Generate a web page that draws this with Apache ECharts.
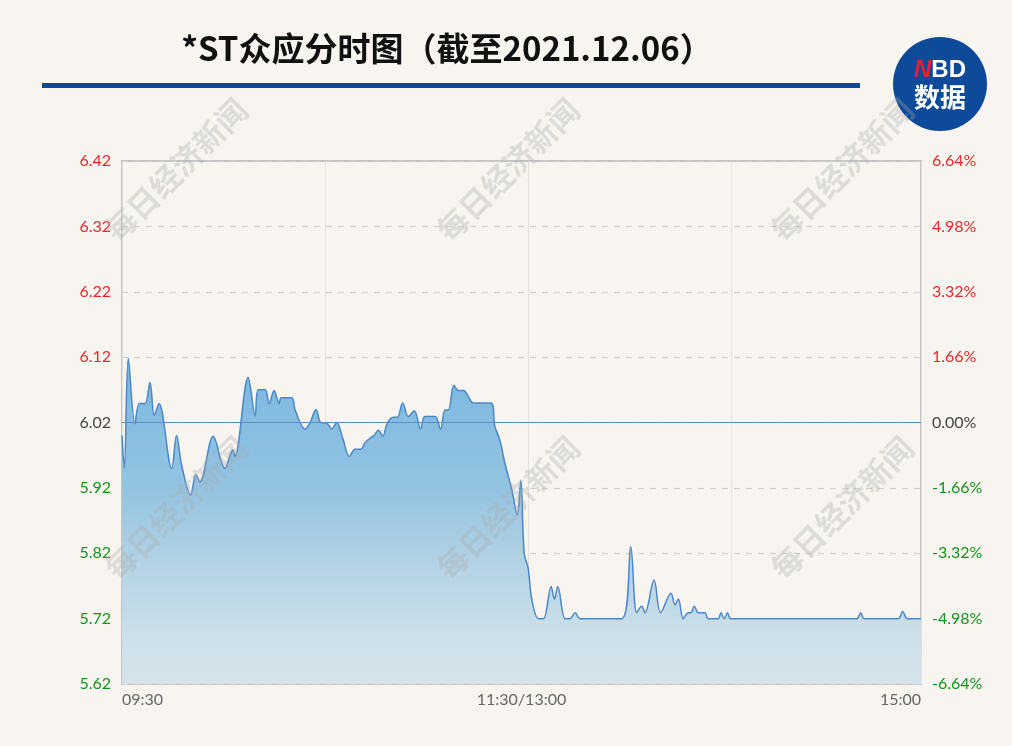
<!DOCTYPE html>
<html>
<head>
<meta charset="utf-8">
<script src="https://cdn.jsdelivr.net/npm/echarts@6/dist/echarts.min.js"></script>
<style>
html,body{margin:0;padding:0;background:#f8f5f0;}
#c{width:1012px;height:746px;}
</style>
</head>
<body>
<div id="c"></div>
<script>
// ---- data ----
const titleText = '*ST众应分时图（截至2021.12.06）';
const prevClose = 6.02;
const priceTicks = [5.62, 5.72, 5.82, 5.92, 6.02, 6.12, 6.22, 6.32, 6.42];
const pctTicks = [-6.64, -4.98, -3.32, -1.66, 0, 1.66, 3.32, 4.98, 6.64];
const timeLabels = { 0: '09:30', 120: '11:30/13:00', 240: '15:00' };
// minutes since 09:30 (trading time) and price
const minutes = [0,0.7,1.9,3.9,5.2,6.9,8.4,9.7,11.1,14.9,16.4,17.9,20.6,22.2,23.4,27.4,30.9,33.3,33.9,37.9,
  40.0,40.9,43.0,44.2,45.7,47.2,47.8,51.0,52.0,55.0,56.5,58.3,59.7,61.5,63.0,64.5,66.3,68.3,70.0,71.7,
  73.0,74.5,75.7,77.0,78.3,79.7,81.5,82.7,84.3,86.0,87.8,89.7,91.0,94.0,95.7,97.0,98.0,99.7,101.0,102.7,
  104.0,105.5,110.8,112.0,113.5,115.0,117.1,118.7,119.8,120.8,122.0,123.1,125.1,126.6,128.9,129.9,130.9,133.1,134.6,136.1,
  137.6,150.1,152.8,154.6,156.1,157.1,159.8,161.8,164.9,166.1,167.1,168.6,170.1,170.9,171.9,173.1,175.1,176.1,179.1,179.9,
  180.9,181.9,182.8,220.7,221.9,222.9,233.2,234.5,235.9,240];
const prices = [6.00,5.95,6.118,6.018,6.049,6.049,6.081,6.031,6.049,5.950,6.000,5.955,5.909,5.940,5.929,5.999,5.950,5.978,5.968,6.089,
  6.030,6.070,6.070,6.049,6.069,6.049,6.058,6.058,6.039,6.010,6.020,6.040,6.020,6.019,6.010,6.020,5.996,5.968,5.979,5.979,
  5.989,5.996,6.000,6.008,5.999,6.019,6.028,6.028,6.050,6.029,6.038,6.010,6.029,6.029,6.010,6.039,6.039,6.077,6.069,6.069,
  6.060,6.050,6.050,6.014,5.993,5.958,5.917,5.879,5.931,5.820,5.797,5.749,5.720,5.720,5.769,5.750,5.769,5.720,5.720,5.729,
  5.720,5.720,5.830,5.729,5.739,5.729,5.779,5.729,5.759,5.741,5.750,5.720,5.729,5.729,5.739,5.729,5.729,5.720,5.720,5.729,
  5.720,5.729,5.720,5.720,5.729,5.720,5.720,5.731,5.720,5.720];
const watermarkText = '每日经济新闻';

// ---- chart ----
const chart = echarts.init(document.getElementById('c'), null, { renderer: 'canvas' });
const seriesData = minutes.map((m, i) => [m, prices[i]]);
const labelFont = 'Lato, "Noto Sans", sans-serif';

function priceColor(v) {
  if (Math.abs(v - prevClose) < 1e-6) return '#444444';
  return v > prevClose ? '#f2262a' : '#13951b';
}
function pctColor(v) {
  if (Math.abs(v) < 1e-6) return '#444444';
  return v > 0 ? '#f2262a' : '#13951b';
}

const wm = [];
[176, 508, 842].forEach(x => {
  [170, 508].forEach(y => {
    wm.push({
      type: 'text', x: x, y: y, rotation: Math.PI / 4, z: 100, silent: true,
      style: {
        text: watermarkText, fill: 'rgba(170,170,170,0.33)',
        font: 'bold 31px "Noto Sans CJK SC", sans-serif',
        textAlign: 'center', textVerticalAlign: 'middle', align: 'center', verticalAlign: 'middle'
      }
    });
  });
});

const option = {
  backgroundColor: '#f8f5f0',
  animation: false,
  grid: { left: 122, right: 91, top: 161, bottom: 62, show: true, borderColor: '#c4c4c4', borderWidth: 2, backgroundColor: 'transparent' },
  xAxis: [
    {
      type: 'value', min: 0, max: 240, interval: 120,
      axisLine: { show: false }, axisTick: { show: false }, splitLine: { show: false },
      axisLabel: {
        fontFamily: labelFont, fontSize: 16, color: '#666666', margin: 8,
        alignMinLabel: 'left', alignMaxLabel: 'right',
        showMinLabel: true, showMaxLabel: true,
        formatter: v => timeLabels[Math.round(v)] || ''
      }
    },
    {
      type: 'value', min: 0, max: 240, interval: 61, position: 'bottom',
      axisLine: { show: false }, axisTick: { show: false }, axisLabel: { show: false },
      splitLine: { show: true, lineStyle: { color: '#e3e1de', width: 1, type: 'solid' } }
    }
  ],
  yAxis: [
    {
      type: 'value', min: priceTicks[0], max: priceTicks[priceTicks.length - 1], interval: 0.1,
      axisLine: { show: false }, axisTick: { show: false },
      splitLine: { show: true, lineStyle: { color: '#d2d0cd', type: [6, 6], width: 1.2 } },
      axisLabel: {
        fontFamily: labelFont, fontSize: 16, margin: 11,
        formatter: v => v.toFixed(2),
        color: v => priceColor(v)
      }
    },
    {
      type: 'value', min: pctTicks[0], max: pctTicks[pctTicks.length - 1], interval: 1.66,
      position: 'right',
      axisLine: { show: false }, axisTick: { show: false }, splitLine: { show: false },
      axisLabel: {
        fontFamily: labelFont, fontSize: 16, margin: 11,
        formatter: v => (Math.abs(v) < 1e-6 ? '0.00' : v.toFixed(2)) + '%',
        color: v => pctColor(v)
      }
    }
  ],
  graphic: [
    { type: 'text', x: 447, y: 48, z: 10, style: { text: titleText, fill: '#111111',
      font: 'bold 33px "Noto Sans CJK SC", sans-serif', textAlign: 'center', textVerticalAlign: 'middle', align: 'center', verticalAlign: 'middle' } },
    { type: 'rect', shape: { x: 42, y: 83, width: 818, height: 5 }, style: { fill: '#0a4a9b' }, z: 10 },
    { type: 'circle', shape: { cx: 940, cy: 84, r: 47 }, style: { fill: '#0d4a9a' }, z: 10 },
    { type: 'text', x: 940, y: 70, z: 11, style: {
      text: '{n|N}{b|BD}', textAlign: 'center', textVerticalAlign: 'middle', align: 'center', verticalAlign: 'middle',
      rich: {
        n: { fill: '#e8212e', font: 'italic bold 24px "Liberation Sans", Arial, sans-serif' },
        b: { fill: '#ffffff', font: 'bold 24px "Liberation Sans", Arial, sans-serif' }
      } } },
    { type: 'text', x: 940, y: 97, z: 11, style: { text: '数据', fill: '#ffffff',
      font: 'bold 26px "Noto Sans CJK SC", sans-serif', textAlign: 'center', textVerticalAlign: 'middle', align: 'center', verticalAlign: 'middle' } }
  ].concat(wm),
  series: [
    {
      type: 'line', xAxisIndex: 0, yAxisIndex: 0,
      data: seriesData, showSymbol: false, symbol: 'none', smooth: 0.35,
      lineStyle: { color: '#4a87c7', width: 1.5 },
      areaStyle: {
        origin: 'start', opacity: 1,
        color: new echarts.graphic.LinearGradient(0, 0, 0, 1, [
          { offset: 0, color: '#7ab7df' },
          { offset: 0.4, color: '#93c4e2' },
          { offset: 0.62, color: '#b2d2e4' },
          { offset: 0.86, color: '#cde0ea' },
          { offset: 1, color: '#d4e3eb' }
        ])
      },
      markLine: {
        silent: true, symbol: 'none', label: { show: false },
        lineStyle: { color: '#5b8dc6', width: 1.2, type: 'solid' },
        data: [{ yAxis: prevClose }]
      }
    }
  ]
};
chart.setOption(option);
</script>
</body>
</html>
